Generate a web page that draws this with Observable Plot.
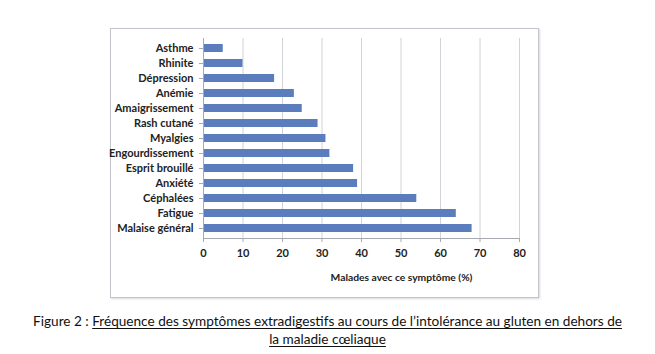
<!DOCTYPE html>
<html>
<head>
<meta charset="utf-8">
<script src="https://cdn.jsdelivr.net/npm/d3@7"></script>
<script src="https://cdn.jsdelivr.net/npm/@observablehq/plot@0.6"></script>
<style>
  html, body { margin: 0; padding: 0; background: #fff; }
  #wrap { position: relative; width: 655px; height: 354px; overflow: hidden; font-family: Lato, "Open Sans", sans-serif; }
  #box { position: absolute; left: 110px; top: 28px; width: 427px; height: 268px; border: 1.5px solid #c4c4cc; box-shadow: 1px 1px 2px #d8d8de; }
  #chart { position: absolute; left: 0; top: 0; }
  #caption { position: absolute; left: 0; top: 312px; width: 655px; text-align: center; font-size: 13.6px; line-height: 18px; color: #111; font-family: Lato, sans-serif; }
  #caption u { text-decoration: underline; text-underline-offset: 2px; }
</style>
</head>
<body>
<div id="wrap">
  <div id="box"></div>
  <div id="chart"></div>
  <div id="caption">Figure 2 : <u>Fréquence des symptômes extradigestifs au cours de l’intolérance au gluten en dehors de<br>la maladie cœliaque</u></div>
</div>
<script>
const categories = ["Asthme", "Rhinite", "Dépression", "Anémie", "Amaigrissement", "Rash cutané", "Myalgies", "Engourdissement", "Esprit brouillé", "Anxiété", "Céphalées", "Fatigue", "Malaise général"];
const values = [5, 10, 18, 23, 25, 29, 31, 32, 38, 39, 54, 64, 68];
const xTicks = [0, 10, 20, 30, 40, 50, 60, 70, 80];
const xLabel = "Malades avec ce symptôme (%)";

const data = categories.map((c, i) => ({symptom: c, pct: values[i]}));

const chart = Plot.plot({
  width: 655,
  height: 300,
  marginLeft: 203,
  marginRight: 136,
  marginTop: 38,
  marginBottom: 62,
  style: {fontFamily: "Lato, 'Open Sans', sans-serif", background: "transparent", color: "#222"},
  x: {domain: [0, 80], ticks: xTicks},
  y: {domain: categories, paddingInner: 0.5, paddingOuter: 0.22},
  marks: [
    Plot.gridX(xTicks, {stroke: "#d2d2d8", strokeOpacity: 1, strokeWidth: 1}),
    Plot.barX(data, {x: "pct", y: "symptom", fill: "#5b7dbd", insetTop: 0, insetBottom: 0}),
    Plot.ruleX([0], {stroke: "#a8a8b0"}),
    Plot.frame({anchor: "bottom", stroke: "#a8a8b0"}),
    Plot.axisX(xTicks, {tickSize: 4, tickPadding: 7, stroke: "#a8a8b0", label: null, fontWeight: "bold", fontSize: 11, fill: "#222", tickFormat: d => String(d)}),
    Plot.axisY({tickSize: 4, tickPadding: 6, stroke: "#a8a8b0", label: null, fontWeight: "bold", fontSize: 11, fill: "#222"}),
    Plot.text([xLabel], {frameAnchor: "bottom", dx: 40, dy: 42, fontWeight: "bold", fontSize: 10.3, fill: "#222"})
  ]
});
document.getElementById("chart").appendChild(chart);
</script>
</body>
</html>
